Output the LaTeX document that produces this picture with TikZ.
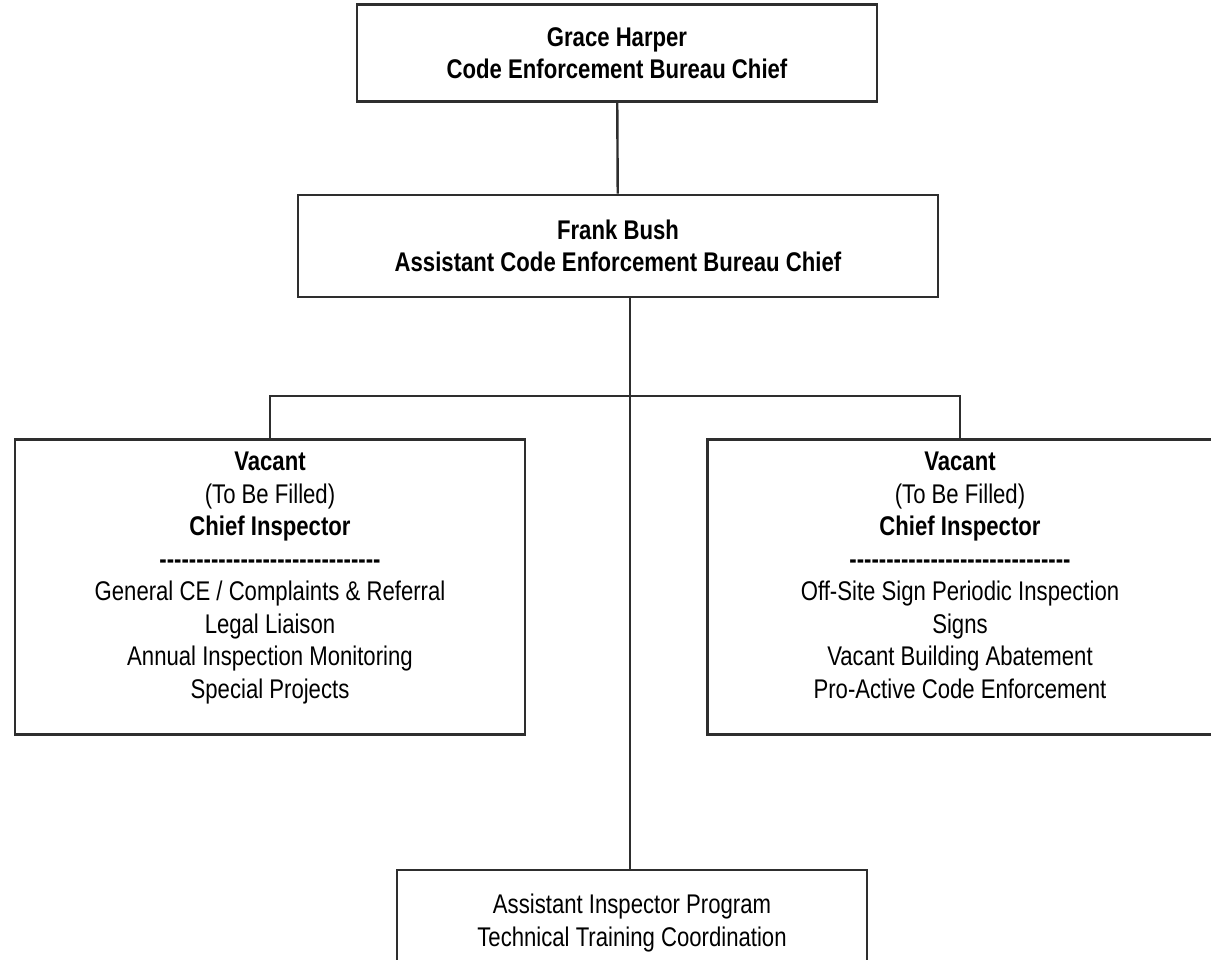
\documentclass[tikz,border=0pt]{standalone}
\usepackage{fontspec}
\setmainfont{Liberation Sans}[FakeStretch=0.82]
\usetikzlibrary{positioning, calc}
\usepackage{xcolor}
\definecolor{boxline}{HTML}{2E2E2E}
\newcommand{\ruleline}{\foreach \i in {1,...,30}{-\kern0pt}}

\begin{document}
\begin{tikzpicture}[
      x=1pt, y=-1pt,
      every node/.style={font=\fontsize{27}{32.5}\selectfont},
      post/.style={draw=boxline, line width=2.6pt, align=center, inner sep=0pt},
      link/.style={draw=boxline, line width=2.4pt},
    ]
    \clip (0,0) rectangle (1211,960);
    \fill[white] (0,0) rectangle (1211,960);
    % Bureau chiefs
    \node[post, minimum width=520pt, minimum height=97pt] (chief) at (617,53)
      {\textbf{Grace Harper}\\\textbf{Code Enforcement Bureau Chief}};
    \node[post, minimum width=640pt, minimum height=102pt] (assist) at (618,246)
      {\textbf{Frank Bush}\\\textbf{Assistant Code Enforcement Bureau Chief}};
    % Chief inspectors
    \node[post, minimum width=510pt, minimum height=295pt, text depth=24pt] (west) at (270,587)
      {\textbf{Vacant}\\(To Be Filled)\\\textbf{Chief Inspector}\\\textbf{\ruleline}\\
       General CE / Complaints \& Referral\\Legal Liaison\\Annual Inspection Monitoring\\Special Projects};
    \node[post, minimum width=505pt, minimum height=295pt, text depth=24pt] (east) at (960,587)
      {\textbf{Vacant}\\(To Be Filled)\\\textbf{Chief Inspector}\\\textbf{\ruleline}\\
       Off-Site Sign Periodic Inspection\\Signs\\Vacant Building Abatement\\Pro-Active Code Enforcement};
    % Programs
    \node[post, minimum width=470pt, minimum height=106pt] (program) at (632,923)
      {Assistant Inspector Program\\Technical Training Coordination};

    \coordinate (bus) at (630,396);
    \draw[link] (chief) -- (assist);
    \draw[link] (assist.south -| bus) -- (bus) -- (bus |- program.north);
    \draw[link] (west.north) |- (bus) -| (east.north);
  \end{tikzpicture}
\end{document}
